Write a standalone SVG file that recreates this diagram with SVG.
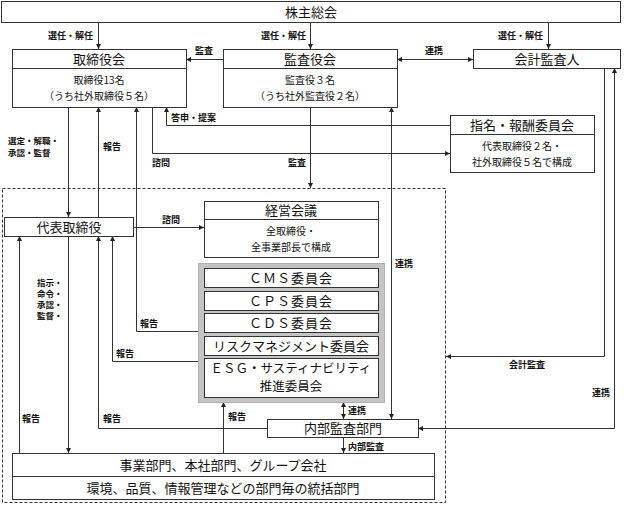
<svg xmlns="http://www.w3.org/2000/svg" width="624" height="505" viewBox="0 0 624 505">
<defs>
<marker id="ah" viewBox="0 0 6 6" refX="6" refY="3" markerWidth="5" markerHeight="5" orient="auto-start-reverse" markerUnits="userSpaceOnUse"><path d="M0,0 L6,3 L0,6 Z" fill="#222"/></marker>
<style>
text{font-family:"Noto Sans CJK JP","Noto Sans CJK SC",sans-serif;fill:#111}
.box{fill:#fff;stroke:#333;stroke-width:1}
.div{stroke:#333;stroke-width:1}
.t13{font-size:13px;text-anchor:middle}
.t12{font-size:12.5px;text-anchor:middle}
.t10{font-size:10px;text-anchor:middle}
.lb{font-size:9px;font-weight:bold}
.sm{font-size:8.5px;font-weight:bold}
.ln{fill:none;stroke:#333;stroke-width:1}
.arr{marker-end:url(#ah)}
.arr2{marker-start:url(#ah);marker-end:url(#ah)}
</style>
</defs>
<rect width="624" height="505" fill="#fff"/>
<rect x="2.5" y="188.5" width="443" height="314" fill="none" stroke="#333" stroke-width="1" stroke-dasharray="3,2"/>

<g id="connectors">
<line class="ln arr" x1="98.5" y1="22" x2="98.5" y2="49"/>
<line class="ln arr" x1="310.5" y1="22" x2="310.5" y2="49"/>
<line class="ln arr" x1="548.5" y1="22" x2="548.5" y2="49"/>
<line class="ln arr" x1="223" y1="59.5" x2="186" y2="59.5"/>
<line class="ln arr2" x1="397" y1="59.5" x2="473" y2="59.5"/>
<line class="ln arr" x1="68.5" y1="107" x2="68.5" y2="217"/>
<line class="ln arr" x1="98.5" y1="217" x2="98.5" y2="107"/>
<polyline class="ln arr" points="199,331.5 136.5,331.5 136.5,107"/>
<polyline class="ln arr" points="152.5,107 152.5,153.5 450,153.5"/>
<polyline class="ln arr" points="450,125.5 166.5,125.5 166.5,107"/>
<line class="ln arr" x1="310.5" y1="107" x2="310.5" y2="188"/>
<line class="ln arr2" x1="391.5" y1="107" x2="391.5" y2="419"/>
<line class="ln arr" x1="133" y1="227.5" x2="204" y2="227.5"/>
<polyline class="ln arr" points="199,361.5 112.5,361.5 112.5,236"/>
<polyline class="ln arr" points="267,428.5 98.5,428.5 98.5,236"/>
<line class="ln arr" x1="19.5" y1="453" x2="19.5" y2="236"/>
<line class="ln arr" x1="68.5" y1="236" x2="68.5" y2="453"/>
<line class="ln arr" x1="223.5" y1="453" x2="223.5" y2="402"/>
<line class="ln arr2" x1="343.5" y1="402" x2="343.5" y2="419"/>
<line class="ln arr" x1="343.5" y1="437" x2="343.5" y2="453"/>
<polyline class="ln arr" points="604.5,68 604.5,356.5 446,356.5"/>
<polyline class="ln arr2" points="614.5,68 614.5,428.5 418,428.5"/>
</g>

<g id="labels">
<text class="lb" x="48" y="39">選任・解任</text>
<text class="lb" x="261" y="39">選任・解任</text>
<text class="lb" x="498" y="39">選任・解任</text>
<text class="lb" x="195" y="54">監査</text>
<text class="lb" x="425" y="54">連携</text>
<text class="sm" x="8" y="144">選定・解職・</text>
<text class="sm" x="8" y="156">承認・監督</text>
<text class="lb" x="103" y="150">報告</text>
<text class="lb" x="171" y="121">答申・提案</text>
<text class="lb" x="152" y="166">諮問</text>
<text class="lb" x="288" y="166">監査</text>
<text class="lb" x="162" y="223">諮問</text>
<text class="sm" x="37" y="286">指示・</text>
<text class="sm" x="37" y="297">命令・</text>
<text class="sm" x="37" y="308">承認・</text>
<text class="sm" x="37" y="319">監督・</text>
<text class="lb" x="140" y="327">報告</text>
<text class="lb" x="116" y="357">報告</text>
<text class="lb" x="395" y="267">連携</text>
<text class="lb" x="509" y="368">会計監査</text>
<text class="lb" x="592" y="396">連携</text>
<text class="lb" x="22" y="422">報告</text>
<text class="lb" x="103" y="422">報告</text>
<text class="lb" x="228" y="419.5">報告</text>
<text class="lb" x="348" y="414">連携</text>
<text class="lb" x="348" y="449.5">内部監査</text>
</g>

<g id="shareholders">
<rect class="box" x="1.5" y="1.5" width="619" height="21"/>
<text class="t13" x="311" y="17">株主総会</text>
</g>

<g id="board">
<rect class="box" x="12.5" y="49.5" width="174" height="58"/>
<line class="div" x1="12.5" y1="68.5" x2="186.5" y2="68.5"/>
<text class="t13" x="99" y="64">取締役会</text>
<text class="t10" x="99" y="84">取締役13名</text>
<text class="t10" x="99" y="100">（うち社外取締役５名）</text>
</g>

<g id="audit-board">
<rect class="box" x="223.5" y="49.5" width="174" height="58"/>
<line class="div" x1="223.5" y1="68.5" x2="397.5" y2="68.5"/>
<text class="t13" x="310" y="64">監査役会</text>
<text class="t10" x="310" y="84">監査役３名</text>
<text class="t10" x="310" y="100">（うち社外監査役２名）</text>
</g>

<g id="accounting-auditor">
<rect class="box" x="473.5" y="49.5" width="147" height="19"/>
<text class="t13" x="547" y="64">会計監査人</text>
</g>

<g id="nomination-committee">
<rect class="box" x="450.5" y="115.5" width="144" height="57"/>
<line class="div" x1="450.5" y1="134.5" x2="594.5" y2="134.5"/>
<text class="t13" x="522" y="130">指名・報酬委員会</text>
<text class="t10" x="522" y="150">代表取締役２名・</text>
<text class="t10" x="522" y="166">社外取締役５名で構成</text>
</g>

<g id="representative">
<rect class="box" x="4.5" y="217.5" width="129" height="19"/>
<text class="t13" x="69" y="232">代表取締役</text>
</g>

<g id="management-meeting">
<rect class="box" x="204.5" y="201.5" width="174" height="56"/>
<line class="div" x1="204.5" y1="219.5" x2="378.5" y2="219.5"/>
<text class="t13" x="291" y="215">経営会議</text>
<text class="t10" x="291" y="235">全取締役・</text>
<text class="t10" x="291" y="251">全事業部長で構成</text>
</g>

<g id="committees">
<rect x="198.5" y="263.5" width="186" height="139" fill="#c4c4c4" stroke="#b0b0b0" stroke-width="1"/>
<rect class="box" x="204.5" y="268.5" width="174" height="19"/>
<text class="t13" x="291" y="283" letter-spacing="1">ＣＭＳ委員会</text>
<rect class="box" x="204.5" y="291.5" width="174" height="19"/>
<text class="t13" x="291" y="306" letter-spacing="1">ＣＰＳ委員会</text>
<rect class="box" x="204.5" y="313.5" width="174" height="19"/>
<text class="t13" x="291" y="328" letter-spacing="1">ＣＤＳ委員会</text>
<rect class="box" x="204.5" y="336.5" width="174" height="19"/>
<text class="t13" x="291" y="351">リスクマネジメント委員会</text>
<rect class="box" x="204.5" y="358.5" width="174" height="39"/>
<text class="t12" x="291" y="373">ＥＳＧ・サスティナビリティ</text>
<text class="t12" x="291" y="391">推進委員会</text>
</g>

<g id="internal-audit">
<rect class="box" x="267.5" y="419.5" width="151" height="18"/>
<text class="t13" x="343" y="433">内部監査部門</text>
</g>

<g id="divisions">
<rect class="box" x="12.5" y="453.5" width="422" height="46"/>
<line class="div" x1="12.5" y1="476.5" x2="434.5" y2="476.5"/>
<text class="t13" x="223" y="470">事業部門、本社部門、グループ会社</text>
<text class="t13" x="223" y="493">環境、品質、情報管理などの部門毎の統括部門</text>
</g>
</svg>
